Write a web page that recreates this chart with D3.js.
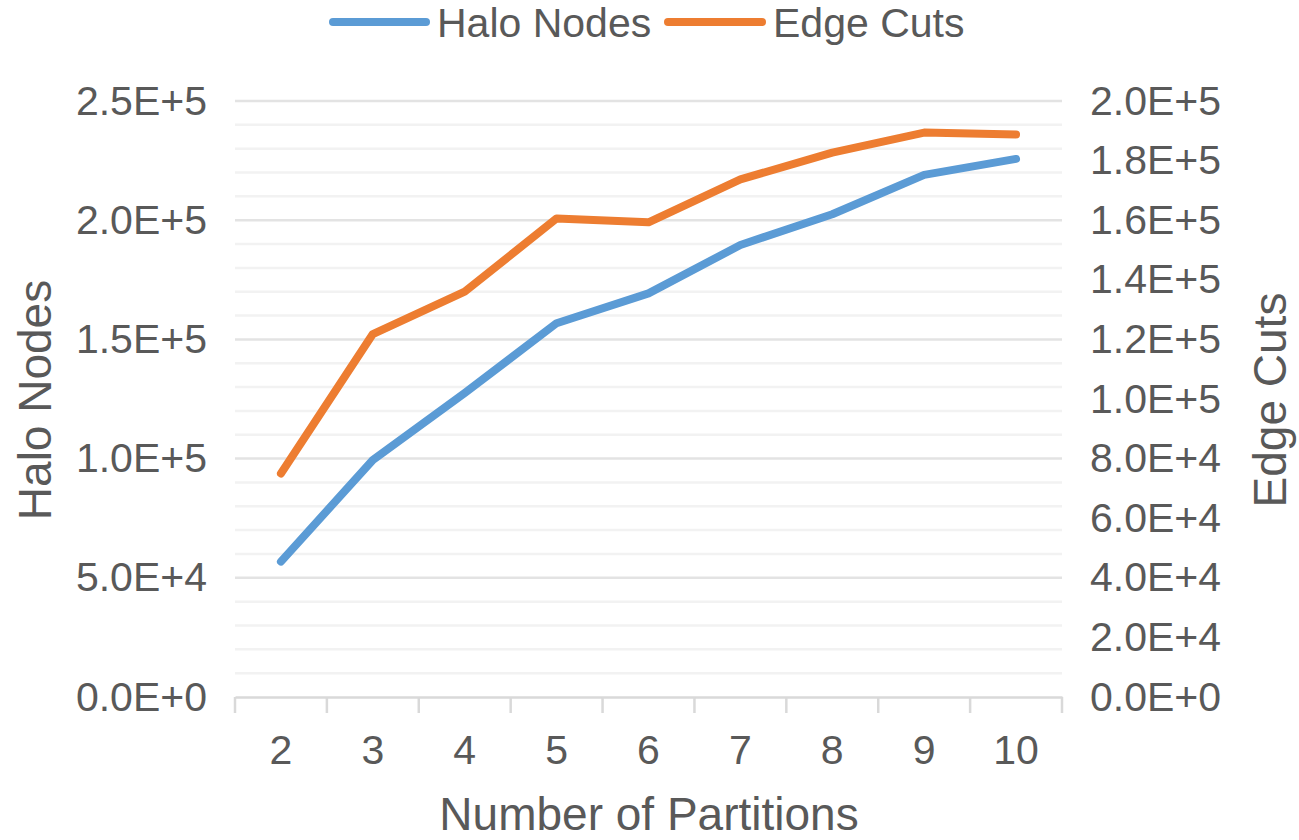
<!DOCTYPE html>
<html><head><meta charset="utf-8">
<script src="https://cdn.jsdelivr.net/npm/d3@7"></script>
<style>body{margin:0;background:#fff}svg{display:block}text{font-family:"Liberation Sans",Arial,sans-serif;fill:#595959}</style>
</head><body><svg id="c" width="1299" height="840"></svg>
<script>
const categories = ["2","3","4","5","6","7","8","9","10"];
const haloNodes = [56800, 99400, 127500, 156800, 169300, 189600, 202500, 219000, 225700];
const edgeCuts  = [75000, 121800, 136000, 160600, 159300, 173700, 182700, 189400, 188800];
const leftTicks = [0, 50000, 100000, 150000, 200000, 250000];
const rightTicks = [0, 20000, 40000, 60000, 80000, 100000, 120000, 140000, 160000, 180000, 200000];
const seriesNames = ["Halo Nodes", "Edge Cuts"];
const colors = ["#5B9BD5", "#ED7D31"];

const svg = d3.select("#c");
const L = 235, R = 1062, T = 101, B = 697;
const x = d3.scaleBand().domain(categories).range([L, R]);
const yL = d3.scaleLinear().domain([0, 250000]).range([B, T]);
const yR = d3.scaleLinear().domain([0, 200000]).range([B, T]);
const fmt = v => {
  if (v === 0) return "0.0E+0";
  const e = Math.floor(Math.log10(v));
  return (v / Math.pow(10, e)).toFixed(1) + "E+" + e;
};
const FF = '"Liberation Sans",Arial,sans-serif';

// minor gridlines
const minor = d3.range(10000, 250001, 10000).filter(v => v % 50000 !== 0);
svg.append("g").selectAll("line").data(minor).join("line")
  .attr("x1", L).attr("x2", R).attr("y1", d => yL(d)).attr("y2", d => yL(d))
  .attr("stroke", "#f2f2f2").attr("stroke-width", 2.5);
svg.append("g").selectAll("line").data(leftTicks.filter(d => d > 0)).join("line")
  .attr("x1", L).attr("x2", R).attr("y1", d => yL(d)).attr("y2", d => yL(d))
  .attr("stroke", "#e3e3e3").attr("stroke-width", 2.5);

// x axis
const xa = svg.append("g").attr("transform", `translate(0,${B})`)
  .call(d3.axisBottom(x).tickSize(0).tickPadding(38));
xa.select(".domain").attr("stroke", "#d9d9d9").attr("stroke-width", 2.5);
xa.selectAll("text").attr("font-size", 41).attr("fill", "#595959").style("font-family", FF);
const bounds = categories.map(c => x(c)).concat([R]);
svg.append("g").selectAll("line").data(bounds).join("line")
  .attr("x1", d => d).attr("x2", d => d).attr("y1", B).attr("y2", B + 16)
  .attr("stroke", "#d9d9d9").attr("stroke-width", 2.5);

// left axis
const la = svg.append("g").attr("transform", `translate(${L},0)`)
  .call(d3.axisLeft(yL).tickValues(leftTicks).tickFormat(fmt).tickSize(0).tickPadding(28));
la.select(".domain").remove();
la.selectAll("text").attr("font-size", 41).attr("fill", "#595959").style("font-family", FF);

// right axis
const ra = svg.append("g").attr("transform", `translate(${R},0)`)
  .call(d3.axisRight(yR).tickValues(rightTicks).tickFormat(fmt).tickSize(0).tickPadding(28));
ra.select(".domain").remove();
ra.selectAll("text").attr("font-size", 41).attr("fill", "#595959").style("font-family", FF);

// lines
const cx = c => x(c) + x.bandwidth() / 2;
const lineL = d3.line().x((d, i) => cx(categories[i])).y(d => yL(d));
const lineR = d3.line().x((d, i) => cx(categories[i])).y(d => yR(d));
svg.append("path").attr("d", lineL(haloNodes)).attr("fill", "none").attr("stroke", colors[0])
  .attr("stroke-width", 8).attr("stroke-linecap", "round").attr("stroke-linejoin", "round");
svg.append("path").attr("d", lineR(edgeCuts)).attr("fill", "none").attr("stroke", colors[1])
  .attr("stroke-width", 8).attr("stroke-linecap", "round").attr("stroke-linejoin", "round");

// axis titles
svg.append("text").attr("transform", "translate(51,400) rotate(-90)").attr("text-anchor", "middle")
  .attr("font-size", 46).text("Halo Nodes");
svg.append("text").attr("transform", "translate(1286,400) rotate(-90)").attr("text-anchor", "middle")
  .attr("font-size", 46).text("Edge Cuts");
svg.append("text").attr("x", 649).attr("y", 830).attr("text-anchor", "middle")
  .attr("font-size", 46).text("Number of Partitions");

// legend
const lg = [{x1: 333, x2: 426, tx: 437}, {x1: 668, x2: 762, tx: 773}];
seriesNames.forEach((n, i) => {
  svg.append("line").attr("x1", lg[i].x1).attr("x2", lg[i].x2).attr("y1", 22).attr("y2", 22)
    .attr("stroke", colors[i]).attr("stroke-width", 8).attr("stroke-linecap", "round");
  svg.append("text").attr("x", lg[i].tx).attr("y", 37).attr("font-size", 41).text(n);
});
</script></body></html>
